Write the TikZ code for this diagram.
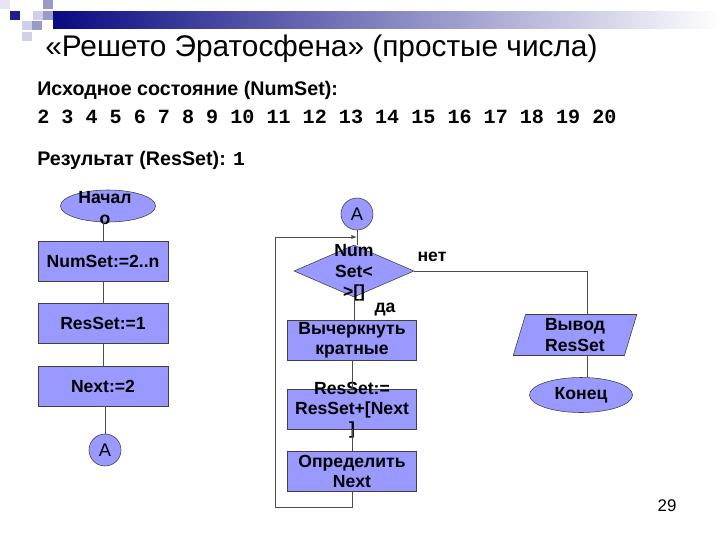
\documentclass[tikz,border=0pt]{standalone}
\usepackage{fontspec}
\setmainfont{Liberation Sans}
\setmonofont{Liberation Mono}
\usetikzlibrary{shapes.geometric,arrows.meta}

\definecolor{boxfill}{HTML}{9999FF}
\definecolor{navy}{HTML}{0A0A82}
\definecolor{sqdark}{HTML}{1E1E8C}
\definecolor{sqmid}{HTML}{9A9AC8}
\definecolor{sqlight}{HTML}{CFCFE8}
\definecolor{sqpale}{HTML}{E6E6F2}

\newcommand{\flowfont}{\fontsize{12.5}{14.4}\selectfont\bfseries}

\begin{document}
\begin{tikzpicture}[x=0.025cm, y=-0.025cm,
    block/.style={rectangle, draw=black!75, fill=boxfill, minimum width=3.25cm, minimum height=1cm, inner sep=0pt, align=center, font=\flowfont},
    term/.style={ellipse, draw=black!75, fill=boxfill, inner sep=0pt, font=\flowfont},
    conn/.style={circle, draw=black!75, fill=boxfill, minimum size=0.8cm, inner sep=0pt, font=\fontsize{13}{15}\selectfont},
    decision/.style={diamond, draw=black!75, fill=boxfill, minimum width=3cm, minimum height=1.3cm, inner sep=0pt},
    io/.style={trapezium, trapezium left angle=77, trapezium right angle=103, trapezium stretches=true, draw=black!75, fill=boxfill, minimum width=3.1cm, minimum height=1.025cm, inner sep=0pt, align=center, font=\flowfont},
    txt/.style={inner sep=0pt, align=center, font=\flowfont},
    line/.style={draw=black!70, line width=0.7pt},
    arrow/.style={line, -{Latex[length=4pt,width=3pt]}}
  ]
  \useasboundingbox (0,0) rectangle (720,540);

  % Corner squares and bar
  \foreach \x/\y/\c in {0/0/sqpale, 10/11/sqdark, 33/11/sqlight, 43/0/sqmid, 43/11/sqmid, 22/21/sqlight, 32/21/sqmid, 22/32/sqlight}
    \fill[\c] (\x,\y) rectangle ++(10,9);
  \shade[left color=navy, right color=white] (53,11) rectangle (720,28);

  % Heading
  \node[anchor=base west, inner sep=0pt, font=\fontsize{21.2}{25}\selectfont] (title) at (45,56) {«Решето Эратосфена» (простые числа)};
  \node[anchor=base west, inner sep=0pt, font=\fontsize{14}{16}\selectfont\bfseries] (inhead) at (37,95) {Исходное состояние (NumSet):};
  \node[anchor=base west, inner sep=0pt, font=\fontsize{14.3}{16}\selectfont\ttfamily\bfseries] (numbers) at (37,123) {2 3 4 5 6 7 8 9 10 11 12 13 14 15 16 17 18 19 20};
  \node[anchor=base west, inner sep=0pt, font=\fontsize{14}{16}\selectfont\bfseries] (result) at (37,165) {Результат (ResSet): \texttt{1}};

  % Left column
  \node[term, minimum width=2.375cm, minimum height=0.8cm] (start) at (108,206) {};
  \node[txt] (startT) at (105,208) {Начал\\о};
  \node[block] (numset) at (103,261.5) {NumSet:=2..n};
  \node[block] (resset) at (103,323.5) {ResSet:=1};
  \node[block] (nextinit) at (103,386.5) {Next:=2};
  \node[conn] (conA1) at (105,450) {A};

  \draw[line] (numset.north) -- (numset.north |- start.south);
  \draw[line] (numset) -- (resset);
  \draw[line] (resset) -- (nextinit);
  \draw[line] (nextinit.south) -- (nextinit.south -| conA1) -- (conA1.north);

  % Right column
  \node[conn] (conA2) at (357,214) {A};
  \node[decision] (cond) at (354,271) {};
  \node[txt] (condT) at (354,273) {Num\\Set<\\>[]};
  \node[block, minimum width=3.225cm] (cross) at (352,340) {Вычеркнуть\\кратные};
  \node[block, minimum width=3.225cm] (addres) at (352,409) {};
  \node[txt] (addresT) at (352,410) {ResSet:=\\ResSet+[Next\\]};
  \node[block, minimum width=3.225cm] (findnext) at (352,471.5) {Определить\\Next};
  \node[io] (output) at (575,335) {Вывод\\ResSet};
  \node[term, minimum width=2.575cm, minimum height=0.875cm] (finish) at (581,395) {Конец};

  \coordinate (loopbot) at (275,507);
  \coordinate (loopin) at (357,237);

  \draw[line] (conA2.south) -- (conA2.south |- cond.north);
  \draw[line] (cond.south) -- (cond.south |- cross.north);
  \draw[line] (cross) -- (addres);
  \draw[line] (addres) -- (findnext);
  \draw[arrow] (findnext.south) |- (loopbot) |- (loopin);
  \draw[line] (cond.east) -| ([xshift=0.3cm]output.north);
  \draw[line] ([xshift=0.3cm]output.south) -- ([xshift=0.3cm]output.south |- finish.north);

  % Branch labels
  \node[txt] (no) at (432,257) {нет};
  \node[txt] (yes) at (385,310) {да};

  % Page number
  \node[font=\fontsize{12}{14}\selectfont] (pagenum) at (667,506) {29};
\end{tikzpicture}
\end{document}
